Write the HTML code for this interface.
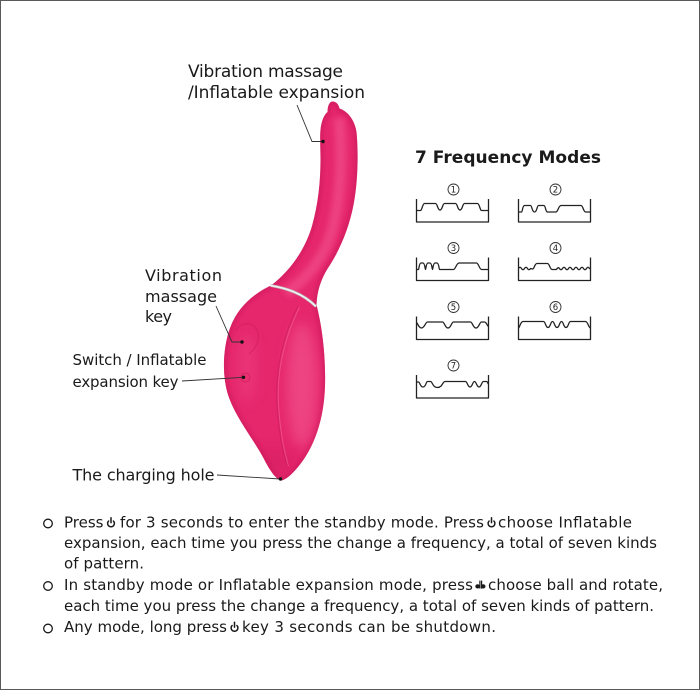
<!DOCTYPE html>
<html>
<head>
<meta charset="utf-8">
<style>
html,body{margin:0;padding:0;background:#fff;}
svg{display:block;}
</style>
</head>
<body>
<svg width="700" height="690" viewBox="0 0 700 690" xmlns="http://www.w3.org/2000/svg" font-family="'DejaVu Sans','Liberation Sans',sans-serif">
<defs>
  <clipPath id="clip">
    <path d="M332.5,101.5 C336,101.5 338.5,104 339.5,108.5 C347,111 354.5,119 356.5,132 C358.5,152 358,182 353.5,205 C349,228 340,250 328,268 C321,279 317,291 316.5,305 C321,322 326,352 325,386 C324,420 314,448 298,467 C292,474 286,480 281,480.5 C276,479 270,471 264,459 C254,440 238,421 229.5,399 C222,380 222,350 230,328 C238,306 255,293 271,285.5 C290,271 305,250 312,226 C318,205 320.5,182 320.5,160 C320.5,146 319.5,134 321,126 C322.5,118 325,114 327.5,112 C327.5,106 329.5,101.5 332.5,101.5 Z"/>
  </clipPath>
  <filter id="b6" x="-50%" y="-50%" width="200%" height="200%"><feGaussianBlur stdDeviation="6"/></filter>
  <filter id="b3" x="-50%" y="-50%" width="200%" height="200%"><feGaussianBlur stdDeviation="3"/></filter>
  <filter id="b2" x="-50%" y="-50%" width="200%" height="200%"><feGaussianBlur stdDeviation="1.8"/></filter>
</defs>

<rect x="0" y="0" width="700" height="690" fill="#fff"/>
<rect x="0.5" y="0.5" width="699" height="689" fill="none" stroke="#5a5a5a" stroke-width="1"/>

<!-- Product -->
<path d="M332.5,101.5 C336,101.5 338.5,104 339.5,108.5 C347,111 354.5,119 356.5,132 C358.5,152 358,182 353.5,205 C349,228 340,250 328,268 C321,279 317,291 316.5,305 C321,322 326,352 325,386 C324,420 314,448 298,467 C292,474 286,480 281,480.5 C276,479 270,471 264,459 C254,440 238,421 229.5,399 C222,380 222,350 230,328 C238,306 255,293 271,285.5 C290,271 305,250 312,226 C318,205 320.5,182 320.5,160 C320.5,146 319.5,134 321,126 C322.5,118 325,114 327.5,112 C327.5,106 329.5,101.5 332.5,101.5 Z" fill="#e6276c"/>
<g clip-path="url(#clip)">
  <path d="M332.5,101.5 C336,101.5 338.5,104 339.5,108.5 C347,111 354.5,119 356.5,132 C358.5,152 358,182 353.5,205 C349,228 340,250 328,268 C321,279 317,291 316.5,305 C321,322 326,352 325,386 C324,420 314,448 298,467 C292,474 286,480 281,480.5 C276,479 270,471 264,459 C254,440 238,421 229.5,399 C222,380 222,350 230,328 C238,306 255,293 271,285.5 C290,271 305,250 312,226 C318,205 320.5,182 320.5,160 C320.5,146 319.5,134 321,126 C322.5,118 325,114 327.5,112 C327.5,106 329.5,101.5 332.5,101.5 Z" fill="none" stroke="#c5145a" stroke-width="6" opacity="0.45" filter="url(#b2)"/>
  <path d="M339,118 C343,160 341,210 327,245 C316,268 301,283 286,293" fill="none" stroke="#f3558f" stroke-width="11" opacity="0.6" filter="url(#b3)"/>
  <ellipse cx="302" cy="385" rx="15" ry="62" fill="#f45d94" opacity="0.55" filter="url(#b6)"/>
  <ellipse cx="247" cy="368" rx="10" ry="36" fill="#ef4584" opacity="0.45" filter="url(#b6)"/>
  <ellipse cx="272" cy="462" rx="22" ry="14" fill="#c8165a" opacity="0.3" filter="url(#b6)"/>
</g>
<!-- panel line -->
<path d="M298,306 C283,335 275,370 277,405 C279,435 283,452 287,466" fill="none" stroke="#c71a59" stroke-width="1" opacity="0.55"/>
<path d="M299.5,307 C285,336 276.5,370 278.5,405 C280.5,435 284.5,452 288.5,466" fill="none" stroke="#f7709f" stroke-width="1" opacity="0.5"/>
<!-- buttons -->
<path d="M236,331 C240,322 254,320 258,333 C260,342 254,350 249,354" fill="none" stroke="#c91a59" stroke-width="0.9" opacity="0.6"/>
<circle cx="245.5" cy="377.5" r="4.5" fill="#ea3272" stroke="#c81a58" stroke-width="0.8" opacity="0.8"/>
<!-- collar -->
<path d="M270.5,285.5 C285,288 302,292.5 316,306.5" fill="none" stroke="#b9b9b9" stroke-width="2.8"/>
<path d="M270.5,285.5 C285,288 302,292.5 316,306.5" fill="none" stroke="#f2f2f2" stroke-width="1.4"/>

<!-- Leader lines -->
<g stroke="#333" stroke-width="0.9" fill="none">
  <polyline points="297,105 312,141.5 323,141.5"/>
  <polyline points="216,306 232,342 242,342"/>
  <line x1="182" y1="381" x2="243.5" y2="377.3"/>
  <line x1="217" y1="475" x2="280" y2="479"/>
</g>
<g fill="#111">
  <circle cx="323" cy="141.5" r="1.7"/>
  <circle cx="242" cy="342" r="1.7"/>
  <circle cx="243.5" cy="377.3" r="1.7"/>
  <circle cx="280.5" cy="479" r="1.7"/>
</g>

<!-- Labels -->
<g fill="#1a1a1a">
  <text x="188" y="77" font-size="17" textLength="155">Vibration massage</text>
  <text x="188" y="98" font-size="17" textLength="177">/Inflatable expansion</text>
  <text x="145" y="281" font-size="16" textLength="77">Vibration</text>
  <text x="145" y="302" font-size="16" textLength="72">massage</text>
  <text x="145" y="322" font-size="16" textLength="27">key</text>
  <text x="72.5" y="365" font-size="15" textLength="134">Switch / Inflatable</text>
  <text x="72.5" y="387" font-size="15" textLength="106">expansion key</text>
  <text x="72.5" y="480.5" font-size="16" textLength="142">The charging hole</text>
</g>

<!-- Frequency modes -->
<text x="415" y="163" font-size="17" font-weight="bold" fill="#1a1a1a" textLength="186">7 Frequency Modes</text>

<g fill="none" stroke="#333" stroke-width="0.9">
  <circle cx="453.5" cy="189.5" r="5.5"/>
  <circle cx="555.5" cy="189.5" r="5.5"/>
  <circle cx="453.5" cy="248" r="5.5"/>
  <circle cx="555.5" cy="248" r="5.5"/>
  <circle cx="453.5" cy="307" r="5.5"/>
  <circle cx="555.5" cy="307" r="5.5"/>
  <circle cx="453.5" cy="365.5" r="5.5"/>
</g>
<g fill="#222" font-size="8.5" text-anchor="middle">
  <text x="453.5" y="192.6">1</text>
  <text x="555.5" y="192.6">2</text>
  <text x="453.5" y="251.1">3</text>
  <text x="555.5" y="251.1">4</text>
  <text x="453.5" y="310.1">5</text>
  <text x="555.5" y="310.1">6</text>
  <text x="453.5" y="368.6">7</text>
</g>

<g fill="none" stroke="#222" stroke-width="1.3" stroke-linejoin="round">
  <!-- 1 -->
  <g transform="translate(416.5,199)">
    <path d="M0,0 V23 H72 V0"/>
    <path d="M0,11.5 L4,11.5 C5.5,11.5 6,4.5 8,4.5 L19,4.5 C21,4.5 21,11 23.5,11 C26,11 26,4.5 28,4.5 L39,4.5 C41,4.5 41,11 43.5,11 C46,11 46,4.5 48,4.5 L61,4.5 C63,4.5 63.5,11.5 65,11.5 L72,11.5"/>
  </g>
  <!-- 2 -->
  <g transform="translate(518.5,199)">
    <path d="M0,0 V23 H72 V0"/>
    <path d="M0,13 L3,13 C4,13 4,6.5 6,6.5 L12,6.5 C13.5,6.5 13.5,13 16,13 C18.5,13 18.5,6.5 20,6.5 L25.5,6.5 C27,6.5 27,13 29,13 L37.5,13 C39.5,13 40,6.5 42.5,6.5 L62.5,6.5 C64.5,6.5 65,13 67,13 L72,13"/>
  </g>
  <!-- 3 -->
  <g transform="translate(416.5,257.5)">
    <path d="M0,0 V23 H72 V0"/>
    <path d="M0,12 L2,12 C2.5,12 2.5,5.5 4.5,5.5 L6.5,5.5 C8.5,5.5 8.5,12 9,12 C9.5,12 9.5,5.5 11.5,5.5 L13.5,5.5 C15.5,5.5 15.5,12 16,12 C16.5,12 16.5,5.5 18.5,5.5 L20.5,5.5 C22.5,5.5 22.5,12 23,12 L37,12 C39,12 40,5.5 42.5,5.5 L60,5.5 C62,5.5 63,12 65,12 L72,12"/>
  </g>
  <!-- 4 -->
  <g transform="translate(518.5,257.5)">
    <path d="M0,0 V23 H72 V0"/>
    <path d="M0,11 Q1.5,8.5 3,11 Q4.5,13.5 6,11 Q7.5,8.5 9,11 Q10.5,13.5 12,11 L14,11.5 C16,11.5 16,6 18.5,6 L29,6 C31,6 31.5,12 33.5,12 L38,12 Q39.5,9 41,11 Q42.5,13.5 44,11 Q45.5,8.5 47,11 Q48.5,13.5 50,11 Q51.5,8.5 53,11 Q54.5,13.5 56,11 Q57.5,8.5 59,11 Q60.5,13.5 62,11 Q63.5,8.5 65,11 Q66.5,13.5 68,11 Q69.5,8.5 71,11 L72,11"/>
  </g>
  <!-- 5 -->
  <g transform="translate(416.5,316.5)">
    <path d="M0,0 V23 H72 V0"/>
    <path d="M0,6 C1,6 2,11.5 5,11.5 C8,11.5 9,5.5 11,5.5 L26,5.5 C28,5.5 28.5,11.5 31.5,11.5 C34.5,11.5 35,5.5 37,5.5 L54,5.5 C56,5.5 56.5,11.5 59.5,11.5 C62.5,11.5 63,5.5 65,5.5 L68,5.5 C70,5.5 71,10 72,10"/>
  </g>
  <!-- 6 -->
  <g transform="translate(518.5,316.5)">
    <path d="M0,0 V23 H72 V0"/>
    <path d="M0,11.5 C1,11.5 2,5 4.5,5 L25,5 C27,5 27,11 29.5,11 C32,11 32,5 34,5 C36,5 36,11 38.5,11 C41,11 41,5 43,5 C45,5 45,11 47.5,11 C50,11 50,5 52,5 L67,5 C69.5,5 70,11.5 72,11.5"/>
  </g>
  <!-- 7 -->
  <g transform="translate(416.5,375)">
    <path d="M0,0 V23 H72 V0"/>
    <path d="M0,7 L2,7 C3.5,7 3.5,12 6.5,12 C9.5,12 9.5,6.5 11,6.5 L14,6.5 C16,6.5 16,12.5 21,12.5 C26,12.5 26,6.5 28.5,6.5 L49,6.5 C51,6.5 51,12 53.5,12 C56,12 56,6.5 58,6.5 C60,6.5 60,12 62.5,12 C65,12 65,6.5 67,6.5 L70,6.5 C71,6.5 71.5,9 72,9"/>
  </g>
</g>

<!-- Bullets -->
<g fill="none" stroke="#1a1a1a" stroke-width="1.3">
  <circle cx="48" cy="523.5" r="4.3"/>
  <circle cx="48" cy="586" r="4.3"/>
  <circle cx="48" cy="628.5" r="4.3"/>
</g>
<!-- power icons -->
<g fill="none" stroke="#1a1a1a" stroke-width="1.5" stroke-linecap="round">
  <path d="M108.6,521 A3.4,3.4 0 1 0 113.4,521"/>
  <path d="M111,517.8 V522.6"/>
  <path d="M489.1,521 A3.4,3.4 0 1 0 493.9,521"/>
  <path d="M491.5,517.8 V522.6"/>
  <path d="M232.1,625.5 A3.4,3.4 0 1 0 236.9,625.5"/>
  <path d="M234.5,622.3 V627.1"/>
</g>
<!-- db icon -->
<g fill="#1a1a1a">
  <ellipse cx="477.6" cy="586.4" rx="2.3" ry="2.1"/>
  <ellipse cx="483.2" cy="586.4" rx="2.3" ry="2.1"/>
  <rect x="479.3" y="580.6" width="1.2" height="8"/>
  <rect x="481" y="580.6" width="1.2" height="8"/>
</g>

<g fill="#1a1a1a" font-size="15">
  <text x="64" y="527.5" textLength="39.5">Press</text>
  <text x="120" y="527.5" textLength="364">for 3 seconds to enter the standby mode. Press</text>
  <text x="498" y="527.5" textLength="134">choose Inflatable</text>
  <text x="64" y="548" textLength="593">expansion, each time you press the change a frequency, a total of seven kinds</text>
  <text x="64" y="568.5" textLength="80">of pattern.</text>
  <text x="64" y="590" textLength="409">In standby mode or Inflatable expansion mode, press</text>
  <text x="488" y="590" textLength="175">choose ball and rotate,</text>
  <text x="64" y="611" textLength="590">each time you press the change a frequency, a total of seven kinds of pattern.</text>
  <text x="64" y="632" textLength="163">Any mode, long press</text>
  <text x="242" y="632" textLength="254">key 3 seconds can be shutdown.</text>
</g>
</svg>
</body>
</html>
